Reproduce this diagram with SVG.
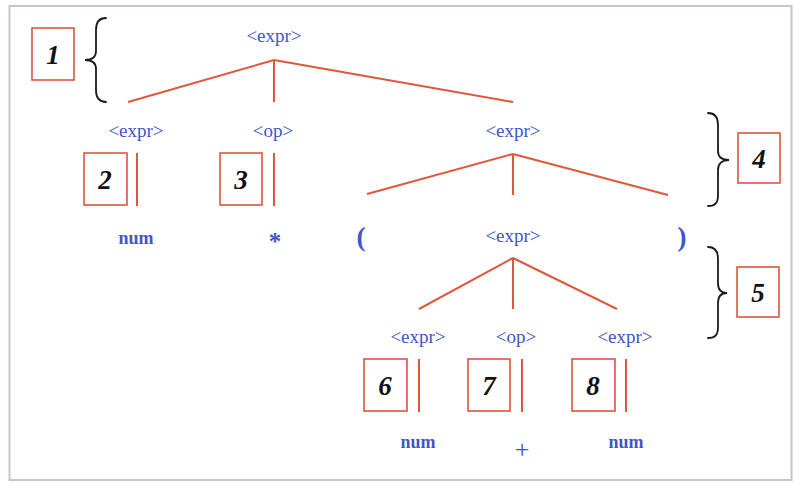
<svg xmlns="http://www.w3.org/2000/svg" width="794" height="483" viewBox="0 0 794 483">
  <style>
    .edge { stroke: #e0583c; stroke-width: 2; fill: none; }
    .box { fill: none; stroke: #dc5540; stroke-width: 1.6; }
    .brace { fill: none; stroke: #1a1a1a; stroke-width: 1.8; stroke-linecap: round; }
    .nt { font-family: "Liberation Serif", "Times New Roman", serif; font-size: 19px; fill: #3f55c8; text-anchor: middle; }
    .tok { font-family: "Liberation Serif", "Times New Roman", serif; font-size: 18px; font-weight: bold; fill: #3f55c8; text-anchor: middle; }
    .paren { font-family: "Liberation Serif", "Times New Roman", serif; font-size: 27px; font-weight: bold; fill: #3f55c8; text-anchor: middle; }
    .num { font-family: "Liberation Serif", "Times New Roman", serif; font-size: 27px; font-weight: bold; font-style: italic; fill: #111; text-anchor: middle; }
  </style>
  <rect x="0" y="0" width="794" height="483" fill="#ffffff"/>
  <rect x="9.5" y="6" width="782" height="474" fill="none" stroke="#cdc2c8" stroke-width="2"/>

  <!-- tree edges -->
  <g id="connectors">
    <line class="edge" x1="274" y1="60" x2="128" y2="102"/>
    <line class="edge" x1="274" y1="60" x2="274" y2="102"/>
    <line class="edge" x1="274" y1="60" x2="513" y2="102"/>
    <line class="edge" x1="137" y1="153" x2="137" y2="206"/>
    <line class="edge" x1="274" y1="153" x2="274" y2="206"/>
    <line class="edge" x1="513" y1="154" x2="367" y2="194"/>
    <line class="edge" x1="513" y1="154" x2="513" y2="195"/>
    <line class="edge" x1="513" y1="154" x2="668" y2="195"/>
    <line class="edge" x1="513" y1="258" x2="419" y2="309"/>
    <line class="edge" x1="513" y1="258" x2="513" y2="309"/>
    <line class="edge" x1="513" y1="258" x2="617" y2="309"/>
    <line class="edge" x1="419" y1="359" x2="419" y2="412"/>
    <line class="edge" x1="522" y1="359" x2="522" y2="412"/>
    <line class="edge" x1="626" y1="359" x2="626" y2="412"/>
  </g>

  <!-- grammar symbols -->
  <g id="root"><text class="nt" x="274" y="42">&lt;expr&gt;</text></g>
  <g id="expr-left"><text class="nt" x="136" y="137">&lt;expr&gt;</text></g>
  <g id="op-top"><text class="nt" x="273" y="137">&lt;op&gt;</text></g>
  <g id="expr-right"><text class="nt" x="513" y="137">&lt;expr&gt;</text></g>
  <g id="tok-num1"><text class="tok" x="136" y="244">num</text></g>
  <g id="tok-star"><text class="tok" x="275" y="250" style="font-size:25px">*</text></g>
  <g id="tok-lparen"><text class="paren" x="361" y="246">(</text></g>
  <g id="expr-inner"><text class="nt" x="513" y="242">&lt;expr&gt;</text></g>
  <g id="tok-rparen"><text class="paren" x="682" y="246">)</text></g>
  <g id="expr-a"><text class="nt" x="418" y="343">&lt;expr&gt;</text></g>
  <g id="op-b"><text class="nt" x="516" y="343">&lt;op&gt;</text></g>
  <g id="expr-c"><text class="nt" x="625" y="343">&lt;expr&gt;</text></g>
  <g id="tok-num2"><text class="tok" x="418" y="448">num</text></g>
  <g id="tok-plus"><text class="nt" x="522" y="458" style="font-size:26px">+</text></g>
  <g id="tok-num3"><text class="tok" x="626" y="448">num</text></g>

  <!-- step markers -->
  <g id="step1"><rect class="box" x="32" y="28" width="42" height="52"/><text class="num" x="53" y="64">1</text></g>
  <g id="step2"><rect class="box" x="84" y="153" width="43" height="52"/><text class="num" x="105" y="189">2</text></g>
  <g id="step3"><rect class="box" x="220" y="153" width="42" height="52"/><text class="num" x="241" y="189">3</text></g>
  <g id="step4"><rect class="box" x="738" y="133" width="42" height="50"/><text class="num" x="759" y="168">4</text></g>
  <g id="step5"><rect class="box" x="737" y="267" width="42" height="50"/><text class="num" x="758" y="302">5</text></g>
  <g id="step6"><rect class="box" x="364" y="359" width="43" height="52"/><text class="num" x="385" y="395">6</text></g>
  <g id="step7"><rect class="box" x="468" y="359" width="42" height="52"/><text class="num" x="489" y="395">7</text></g>
  <g id="step8"><rect class="box" x="572" y="359" width="43" height="52"/><text class="num" x="593" y="395">8</text></g>

  <!-- braces -->
  <g id="brace1"><path class="brace" d="M106,18 C98,18 96,23 96,30 L96,51 C96,57 92,60 85,60 C92,60 96,63 96,69 L96,90 C96,97 98,102 106,102"/></g>
  <g id="brace4"><path class="brace" d="M708,113 C716,113 718,118 718,125 L718,151 C718,157 722,160 729,160 C722,160 718,164 718,170 L718,195 C718,202 716,206 708,206"/></g>
  <g id="brace5"><path class="brace" d="M708,247 C716,247 718,252 718,259 L718,283 C718,289 721,293 727,293 C721,293 718,297 718,303 L718,327 C718,334 716,338 708,338"/></g>
</svg>
